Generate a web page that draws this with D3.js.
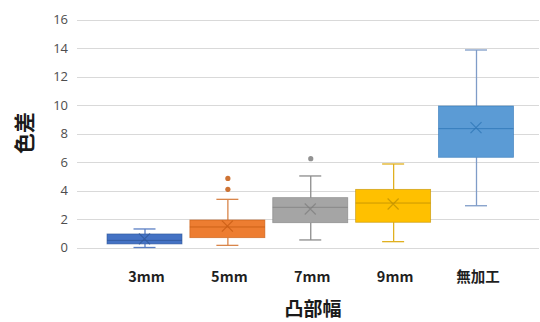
<!DOCTYPE html>
<html>
<head>
<meta charset="utf-8">
<script src="https://cdn.jsdelivr.net/npm/d3@7"></script>
<style>
  html, body { margin: 0; padding: 0; background: #fff; }
  svg { display: block; }
</style>
</head>
<body>
<svg id="chart" width="540" height="322"></svg>
<script>
// Box & whisker summary per group
const categories = ["3mm", "5mm", "7mm", "9mm", "無加工"];
const whiskerLow  = [0.00, 0.15, 0.53, 0.41, 2.93];
const q1          = [0.25, 0.69, 1.74, 1.77, 6.33];
const median      = [0.50, 1.44, 2.82, 3.12, 8.34];
const q3          = [0.95, 1.93, 3.50, 4.08, 9.93];
const whiskerHigh = [1.30, 3.38, 5.02, 5.86, 13.86];
const means       = [0.60, 1.50, 2.70, 3.05, 8.41];
const outliers    = [[], [4.08, 4.85], [6.23], [], []];
const yTicks      = [0, 2, 4, 6, 8, 10, 12, 14, 16];

const fills   = ["#4472C4", "#ED7D31", "#A5A5A5", "#FFC000", "#5B9BD5"];
const darks   = ["#2F5597", "#C55A11", "#7F7F7F", "#BF9000", "#2E75B6"];
const whisks  = ["#5B7FC4", "#D9854A", "#8C8C8C", "#E0B020", "#7F9CC8"];

const svg = d3.select("#chart");
const plotLeft = 77, plotRight = 539;

const x = d3.scalePoint().domain(categories).range([144.5, 476]).padding(0);
const y = d3.scaleLinear().domain([0, 16]).range([247.5, 19.5]);

// horizontal gridlines
svg.append("g").selectAll("line").data(yTicks).join("line")
  .attr("x1", plotLeft).attr("x2", plotRight)
  .attr("y1", d => Math.round(y(d)) + 0.5).attr("y2", d => Math.round(y(d)) + 0.5)
  .attr("stroke", "#D9D9D9").attr("stroke-width", 1);

// y tick labels
const yAxis = d3.axisLeft(y).tickValues(yTicks).tickSize(0).tickPadding(0);
const gy = svg.append("g").attr("transform", "translate(68,0)").call(yAxis);
gy.select(".domain").remove();
gy.selectAll("text")
  .attr("fill", "#4d4d4d")
  .style("font-family", "'Open Sans', 'Noto Sans', sans-serif")
  .style("font-size", "13px");

const boxW = 75, capW = 22;
const idx = d3.range(categories.length);
const g = svg.append("g");

idx.forEach(i => {
  const cx = x(categories[i]);
  const grp = g.append("g");
  // whiskers
  grp.append("line")
    .attr("x1", cx + 0.5).attr("x2", cx + 0.5)
    .attr("y1", y(whiskerHigh[i])).attr("y2", y(q3[i]))
    .attr("stroke", whisks[i]).attr("stroke-width", 1.3);
  grp.append("line")
    .attr("x1", cx + 0.5).attr("x2", cx + 0.5)
    .attr("y1", y(q1[i])).attr("y2", y(whiskerLow[i]))
    .attr("stroke", whisks[i]).attr("stroke-width", 1.3);
  [whiskerHigh[i], whiskerLow[i]].forEach(v => {
    grp.append("line")
      .attr("x1", cx - capW / 2).attr("x2", cx + capW / 2)
      .attr("y1", y(v)).attr("y2", y(v))
      .attr("stroke", whisks[i]).attr("stroke-width", 1.3);
  });
  // box
  grp.append("rect")
    .attr("x", cx - boxW / 2).attr("width", boxW)
    .attr("y", y(q3[i])).attr("height", y(q1[i]) - y(q3[i]))
    .attr("fill", fills[i]).attr("stroke", darks[i]).attr("stroke-width", 0.8)
    .attr("stroke-opacity", 0.7);
  // median
  grp.append("line")
    .attr("x1", cx - boxW / 2).attr("x2", cx + boxW / 2)
    .attr("y1", y(median[i])).attr("y2", y(median[i]))
    .attr("stroke", darks[i]).attr("stroke-width", 1).attr("stroke-opacity", 0.8);
  // mean marker
  const my = y(means[i]), s = 5.5;
  grp.append("path")
    .attr("d", `M${cx - s},${my - s}L${cx + s},${my + s}M${cx - s},${my + s}L${cx + s},${my - s}`)
    .attr("stroke", darks[i]).attr("stroke-width", 1.2).attr("stroke-opacity", 0.75)
    .attr("fill", "none");
  // outliers
  grp.selectAll("circle").data(outliers[i]).join("circle")
    .attr("cx", cx + 0.5).attr("cy", d => y(d)).attr("r", 2.6)
    .attr("fill", darks[i]).attr("fill-opacity", 0.85);
});

// category labels
svg.append("g").selectAll("text").data(categories).join("text")
  .attr("x", d => x(d) + 2).attr("y", 282)
  .attr("text-anchor", "middle")
  .attr("fill", "#1f1f1f")
  .style("font-family", "'Noto Sans CJK JP', 'Noto Sans', sans-serif")
  .style("font-weight", "bold")
  .style("font-size", "14.5px")
  .text(d => d);

// axis titles
svg.append("text")
  .attr("x", (plotLeft + plotRight) / 2 + 5).attr("y", 316)
  .attr("text-anchor", "middle")
  .attr("fill", "#1a1a1a")
  .style("font-family", "'Noto Sans CJK JP', sans-serif")
  .style("font-weight", "bold")
  .style("font-size", "19px")
  .text("凸部幅");

svg.append("text")
  .attr("transform", "translate(32,133) rotate(-90)")
  .attr("text-anchor", "middle")
  .attr("fill", "#1a1a1a")
  .style("font-family", "'Noto Sans CJK JP', sans-serif")
  .style("font-weight", "bold")
  .style("font-size", "21px")
  .text("色差");
</script>
</body>
</html>
